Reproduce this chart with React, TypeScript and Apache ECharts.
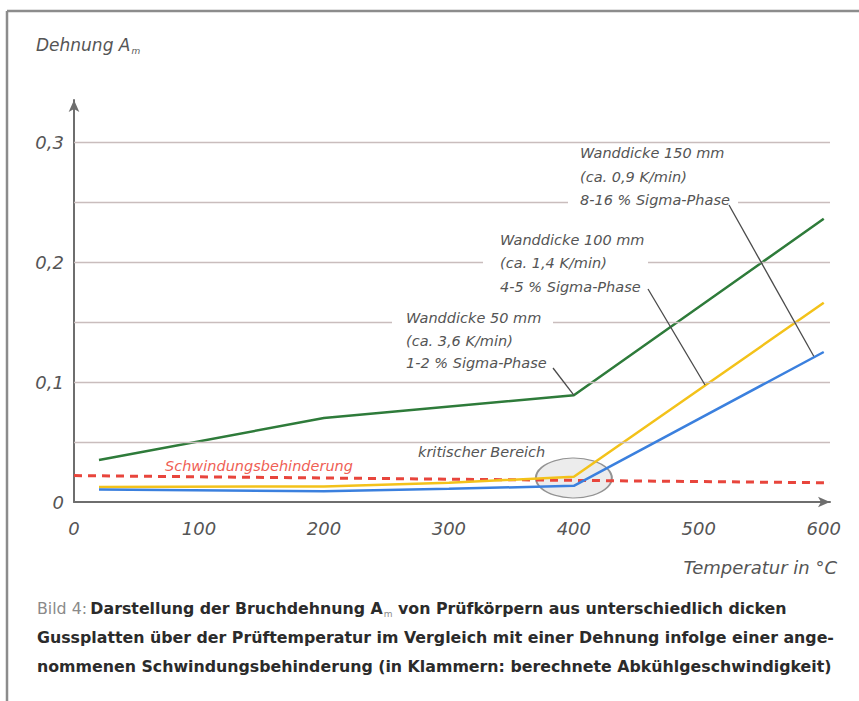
import React, { useEffect, useRef } from 'react';
import * as echarts from 'echarts';

// ---- data ----
const xLabelTicks = [0, 100, 200, 300, 400, 500, 600];
const yLabelTicks = [0, 0.1, 0.2, 0.3];
const gridValues = [0.05, 0.1, 0.15, 0.2, 0.25, 0.3];
const wall50Green = [[20, 0.035], [200, 0.07], [400, 0.089], [600, 0.236]];
const wall100Yellow = [[20, 0.0125], [200, 0.013], [300, 0.016], [400, 0.021], [600, 0.166]];
const wall150Blue = [[20, 0.0105], [200, 0.009], [300, 0.011], [400, 0.0135], [600, 0.125]];
const shrinkage = [[0, 0.022], [605, 0.016]];
const criticalZone = [[400, 0.02]];
const note150 = ['Wanddicke 150 mm', '(ca. 0,9 K/min)', '8-16 % Sigma-Phase'];
const note100 = ['Wanddicke 100 mm', '(ca. 1,4 K/min)', '4-5 % Sigma-Phase'];
const note50 = ['Wanddicke 50 mm', '(ca. 3,6 K/min)', '1-2 % Sigma-Phase'];
// leader end points (data space, on the curves)
const leader150End = [592, 0.1215];
const leader100End = [505, 0.0975];
const leader50End = [400, 0.089];

const FONT = '"DejaVu Sans", sans-serif';
const TXT = '#555555';
const CAP = 15.8;

export default function App() {
  const ref = useRef<HTMLDivElement>(null);
  useEffect(() => {
    const el = ref.current!;
    const chart = echarts.init(el, null, { renderer: 'svg' });
    const option: any = {
      animation: false,
      backgroundColor: '#ffffff',
      grid: { left: 74, right: 29, top: 100, bottom: 199, containLabel: false },
      xAxis: {
        type: 'value', min: 0, max: 605, interval: 100,
        axisLine: { show: true, lineStyle: { color: '#6e6e6e', width: 2 }, symbol: ['none', 'arrow'], symbolSize: [8, 12] },
        axisTick: { show: false },
        splitLine: { show: false },
        axisLabel: {
          margin: 17, color: TXT, fontSize: 18, fontStyle: 'italic', fontFamily: FONT,
          formatter: (v: number) => (xLabelTicks.includes(v) ? String(v) : ''),
        },
      },
      yAxis: {
        type: 'value', min: 0, max: 0.335, interval: 0.1,
        axisLine: { show: true, lineStyle: { color: '#6e6e6e', width: 2 }, symbol: ['none', 'arrow'], symbolSize: [8, 12] },
        axisTick: { show: false },
        splitLine: { show: false },
        axisLabel: {
          margin: 10, color: TXT, fontSize: 18, fontStyle: 'italic', fontFamily: FONT,
          formatter: (v: number) => (yLabelTicks.some((t) => Math.abs(t - v) < 1e-9) ? String(Math.round(v * 10) / 10).replace('.', ',') : ''),
        },
      },
      series: [
        {
          type: 'line', data: [], silent: true, z: 1,
          markLine: {
            silent: true, symbol: ['none', 'none'], label: { show: false },
            lineStyle: { color: '#c9bdbd', width: 1.3, type: 'solid' },
            data: gridValues.map((v) => ({ yAxis: v })),
          },
        },
        {
          type: 'scatter', data: criticalZone, symbol: 'circle', symbolSize: [76, 40], z: 2, silent: true,
          itemStyle: { color: 'rgba(195,195,195,0.4)', borderColor: '#7a7a7a', borderWidth: 1.5 },
        },
        {
          name: 'Schwindungsbehinderung', type: 'line', data: shrinkage, showSymbol: false, z: 3,
          lineStyle: { color: '#e8453c', width: 3, type: [8, 6] },
        },
        {
          name: 'Wanddicke 50 mm', type: 'line', data: wall50Green, showSymbol: false, z: 4,
          lineStyle: { color: '#2e7b3a', width: 2.5 },
        },
        {
          name: 'Wanddicke 100 mm', type: 'line', data: wall100Yellow, showSymbol: false, z: 4,
          lineStyle: { color: '#f3c21a', width: 2.5 },
        },
        {
          name: 'Wanddicke 150 mm', type: 'line', data: wall150Blue, showSymbol: false, z: 5,
          lineStyle: { color: '#3b80de', width: 2.5 },
        },
      ],
    };
    chart.setOption(option);

    const px = (p: number[]) => chart.convertToPixel({ gridIndex: 0 }, p) as number[];
    const e150 = px(leader150End);
    const e100 = px(leader100End);
    const e50 = px(leader50End);

    const noteStyle = (lines: string[], x: number, y: number, lh: number) => ({
      type: 'text', z: 20,
      style: {
        text: lines.join('\n'), x, y, fill: TXT, fontSize: 14.5, fontStyle: 'italic', fontFamily: FONT,
        lineHeight: lh, align: 'left', verticalAlign: 'top',
      },
    });
    const gap = (x: number, y: number, w: number, h: number) => ({
      type: 'rect', z: 15, shape: { x, y, width: w, height: h }, style: { fill: '#ffffff' },
    });
    const leader = (x1: number, y1: number, p: number[]) => ({
      type: 'line', z: 20, shape: { x1, y1, x2: p[0], y2: p[1] }, style: { stroke: '#4a4a4a', lineWidth: 1.3 },
    });

    chart.setOption({
      graphic: [
        { type: 'line', z: 30, shape: { x1: 7, y1: 11, x2: 859, y2: 11 }, style: { stroke: '#8c8c8c', lineWidth: 2.5 } },
        { type: 'line', z: 30, shape: { x1: 7, y1: 11, x2: 7, y2: 701 }, style: { stroke: '#8c8c8c', lineWidth: 2.5 } },
        {
          type: 'text', z: 20,
          style: {
            text: '{a|Dehnung A}{s|m}', x: 36, y: 45, verticalAlign: 'middle', fill: TXT,
            rich: {
              a: { fontSize: 17, fontStyle: 'italic', fontFamily: FONT, fill: TXT, color: TXT },
              s: { fontSize: 9, fontStyle: 'italic', fontFamily: FONT, fill: TXT, color: TXT, padding: [12, 0, 0, 1] },
            },
          },
        },
        {
          type: 'text', z: 20,
          style: { text: 'Temperatur in °C', x: 837, y: 567, align: 'right', verticalAlign: 'middle', fill: TXT, fontSize: 18, fontStyle: 'italic', fontFamily: FONT },
        },
        gap(568, 194, 170, 15),
        gap(483, 255, 165, 15),
        gap(392, 315, 161, 15),
        noteStyle(note150, 580, 141.5, 23.5),
        noteStyle(note100, 500, 228, 23.5),
        noteStyle(note50, 406, 307, 22.5),
        leader(729, 205, e150),
        leader(648, 289, e100),
        leader(553, 368, e50),
        {
          type: 'text', z: 20,
          style: { text: 'kritischer Bereich', x: 418, y: 452, verticalAlign: 'middle', fill: TXT, fontSize: 14.5, fontStyle: 'italic', fontFamily: FONT },
        },
        {
          type: 'text', z: 20,
          style: { text: 'Schwindungsbehinderung', x: 165, y: 466, verticalAlign: 'middle', fill: '#ef5f55', fontSize: 14.5, fontStyle: 'italic', fontFamily: FONT },
        },
        {
          type: 'text', z: 20,
          style: {
            x: 37, y: 608, verticalAlign: 'middle',
            text: '{g|Bild 4:} {b|Darstellung der Bruchdehnung A}{s|m}{b| von Prüfkörpern aus unterschiedlich dicken}',
            rich: {
              g: { fontSize: CAP, fontFamily: FONT, fill: '#8a8a8a', color: '#8a8a8a' },
              b: { fontSize: CAP, fontFamily: FONT, fontWeight: 'bold', fill: '#2b2b2b', color: '#2b2b2b' },
              s: { fontSize: 9, fontFamily: FONT, fill: '#8a8a8a', color: '#8a8a8a', padding: [12, 0, 0, 1] },
            },
          },
        },
        {
          type: 'text', z: 20,
          style: { x: 37, y: 637, verticalAlign: 'middle', text: 'Gussplatten über der Prüftemperatur im Vergleich mit einer Dehnung infolge einer ange-', fill: '#2b2b2b', fontSize: CAP, fontWeight: 'bold', fontFamily: FONT },
        },
        {
          type: 'text', z: 20,
          style: { x: 37, y: 666, verticalAlign: 'middle', text: 'nommenen Schwindungsbehinderung (in Klammern: berechnete Abkühlgeschwindigkeit)', fill: '#2b2b2b', fontSize: CAP, fontWeight: 'bold', fontFamily: FONT },
        },
      ],
    });
    return () => chart.dispose();
  }, []);
  return <div ref={ref} style={{ position: 'fixed', left: 0, top: 0, width: 859, height: 701 }} />;
}
